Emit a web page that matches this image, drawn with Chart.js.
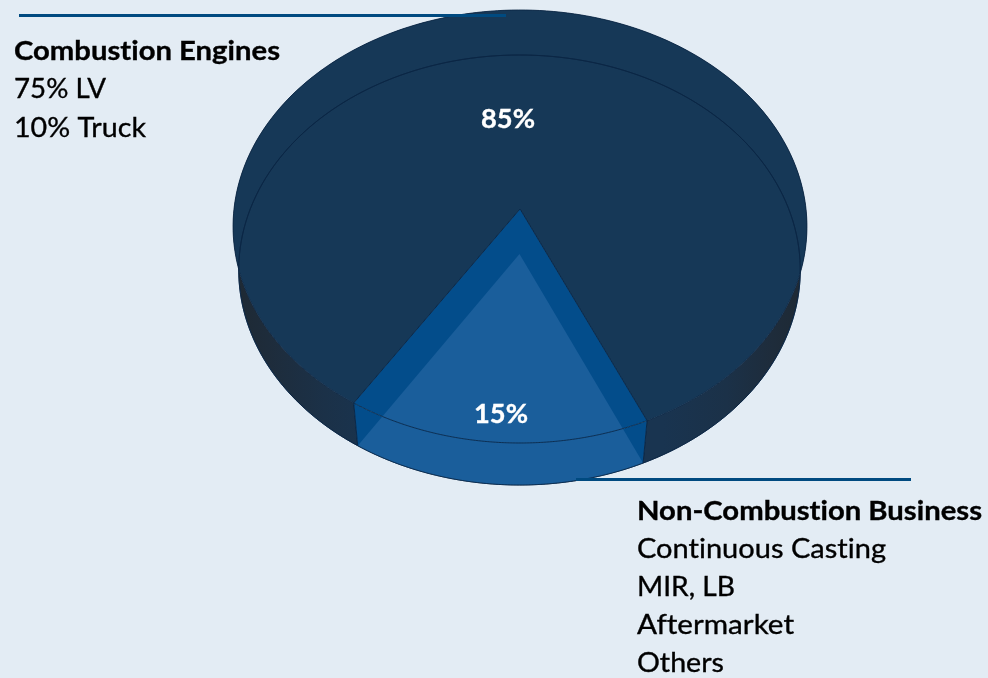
<!DOCTYPE html>
<html>
<head>
<meta charset="utf-8">
<style>
html,body{margin:0;padding:0;background:#e3ecf4;overflow:hidden}
canvas{display:block}
</style>
<script src="https://cdn.jsdelivr.net/npm/chart.js@4/dist/chart.umd.js"></script>
</head>
<body>
<canvas id="c" width="988" height="678"></canvas>
<script>
const categories = ['Combustion Engines', 'Non-Combustion Business'];
const shares = [85, 15];
const combustionLines = ['75% LV', '10% Truck'];
const nonCombustionLines = ['Continuous Casting', 'MIR, LB', 'Aftermarket', 'Others'];

// Perspective view of the disc: unit-circle coordinates to screen.
const makeCap = (cx, cy, top, bottom, rx) => {
  const c = (2 * cy - top - bottom) / (bottom - top);
  const a = bottom + bottom * c - cy;
  return (ux, uy) => {
    const w = 1 + c * uy;
    return [cx + rx * ux / w, (a * uy + cy) / w];
  };
};
const topCap = makeCap(520, 209, 10, 443, 286);
const baseCap = makeCap(519.5, 254, 55, 485, 280);
const angleView = [-1.55, 1.55].map(d => d * Math.PI / 180);
const edgeColor = 'rgba(10,38,68,0.85)';
const wedgeOverlap = '#1a5e9b';

function trace(ctx, cap, from, to, move) {
  const n = 200;
  for (let i = 0; i <= n; i++) {
    const t = from + (to - from) * i / n;
    const p = cap(Math.cos(t), Math.sin(t));
    if (i === 0 && move) ctx.moveTo(p[0], p[1]); else ctx.lineTo(p[0], p[1]);
  }
}
function ring(ctx, cap) {
  ctx.beginPath();
  trace(ctx, cap, 0, Math.PI * 2, true);
  ctx.closePath();
}

Chart.ArcElement.prototype.draw = function (ctx) {
  const idx = this.$context.dataIndex;
  const d = angleView[idx];
  const s = this.startAngle - d, e = this.endAngle + d;
  const fill = this.options.backgroundColor;
  ctx.save();
  ctx.lineJoin = 'round';

  // side wall
  ctx.beginPath();
  trace(ctx, topCap, s, e, true);
  trace(ctx, baseCap, e, s, false);
  ctx.closePath();
  if (idx === 0) {
    const g = ctx.createLinearGradient(233, 0, 807, 0);
    g.addColorStop(0, '#1e2933');
    g.addColorStop(0.06, '#1e2c3b');
    g.addColorStop(0.16, '#1b3148');
    g.addColorStop(0.25, '#193450');
    g.addColorStop(0.75, '#193450');
    g.addColorStop(0.86, '#1b3148');
    g.addColorStop(0.94, '#1e2c3b');
    g.addColorStop(1, '#1e2933');
    ctx.fillStyle = g;
  } else {
    ctx.fillStyle = fill;
  }
  ctx.fill();

  // top face
  const c0 = topCap(0, 0);
  ctx.beginPath();
  ctx.moveTo(c0[0], c0[1]);
  trace(ctx, topCap, s, e, false);
  ctx.closePath();
  ctx.fillStyle = fill;
  ctx.fill();

  if (idx === 1) {
    // the base of the wedge shows through the translucent top
    const b0 = baseCap(0, 0);
    ctx.beginPath();
    ctx.moveTo(b0[0], b0[1]);
    trace(ctx, baseCap, s, e, false);
    ctx.closePath();
    ctx.fillStyle = wedgeOverlap;
    ctx.fill();
  }

  // edges
  ctx.strokeStyle = edgeColor;
  ctx.lineWidth = 1;
  if (idx === 0) {
    ring(ctx, baseCap);
    ctx.stroke();
  }
  ctx.beginPath();
  ctx.moveTo(c0[0], c0[1]);
  trace(ctx, topCap, s, e, false);
  ctx.closePath();
  ctx.stroke();
  ctx.beginPath();
  trace(ctx, baseCap, s, e, true);
  ctx.stroke();
  [s, e].forEach(t => {
    const a = topCap(Math.cos(t), Math.sin(t));
    const b = baseCap(Math.cos(t), Math.sin(t));
    ctx.beginPath();
    ctx.moveTo(a[0], a[1]);
    ctx.lineTo(b[0], b[1]);
    ctx.stroke();
  });
  ctx.restore();
};

const FONT = 'Lato, "Open Sans", sans-serif';
function fitText(ctx, text, x, y, width, font, color) {
  ctx.save();
  ctx.font = font;
  ctx.letterSpacing = '0.01px'; // keeps "ti" from forming a ligature
  ctx.fillStyle = color;
  ctx.strokeStyle = color;
  ctx.lineWidth = 0.35;
  ctx.textBaseline = 'alphabetic';
  ctx.textAlign = 'left';
  const m = ctx.measureText(text).width;
  ctx.translate(x, y);
  ctx.scale(width / m, 1);
  ctx.fillText(text, 0, 0);
  ctx.strokeText(text, 0, 0);
  ctx.restore();
}

const annotations = {
  id: 'annotations',
  afterDatasetsDraw(chart) {
    const ctx = chart.ctx;
    ctx.save();
    ctx.strokeStyle = '#004a80';
    ctx.lineWidth = 3;
    ctx.beginPath();
    ctx.moveTo(19, 15.5); ctx.lineTo(506, 15.5);
    ctx.moveTo(576, 479.5); ctx.lineTo(911, 479.5);
    ctx.stroke();
    ctx.restore();

    const reg = '27px ' + FONT, bold = 'bold 27px ' + FONT;
    fitText(ctx, categories[0], 14, 60, 266, bold, '#000');
    fitText(ctx, combustionLines[0], 14, 98, 92, reg, '#000');
    fitText(ctx, combustionLines[1], 14, 137, 132, reg, '#000');
    fitText(ctx, categories[1], 637, 520, 345, bold, '#000');
    fitText(ctx, nonCombustionLines[0], 637, 558, 249, reg, '#000');
    fitText(ctx, nonCombustionLines[1], 637, 596, 98, reg, '#000');
    fitText(ctx, nonCombustionLines[2], 637, 634, 157, reg, '#000');
    fitText(ctx, nonCombustionLines[3], 637, 672, 87, reg, '#000');
    fitText(ctx, shares[0] + '%', 481, 128, 54, bold, '#fff');
    fitText(ctx, shares[1] + '%', 474, 423, 54, bold, '#fff');
  }
};

new Chart(document.getElementById('c'), {
  type: 'pie',
  data: {
    labels: categories,
    datasets: [{
      data: shares,
      backgroundColor: ['#163857', '#034d8b'],
      borderWidth: 0
    }]
  },
  options: {
    responsive: false,
    animation: false,
    rotation: 211.25,
    layout: { padding: 0 },
    plugins: { legend: { display: false }, tooltip: { enabled: false }, title: { display: false } }
  },
  plugins: [annotations]
});
</script>
</body>
</html>
